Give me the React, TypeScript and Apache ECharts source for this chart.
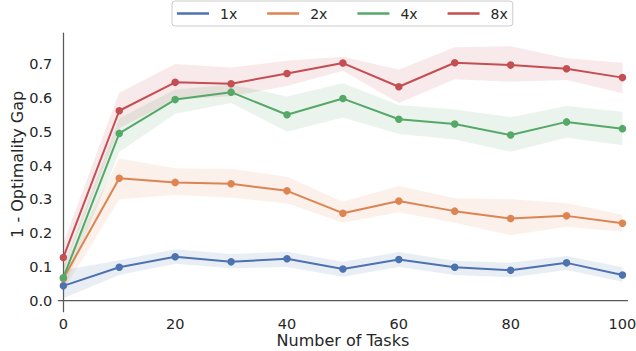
import React, { useEffect, useRef } from "react";
import * as echarts from "echarts";

const tasks = [0, 10, 20, 30, 40, 50, 60, 70, 80, 90, 100];
const seriesNames = ["1x", "2x", "4x", "8x"];
const colors = ["#4C72B0", "#DD8452", "#55A868", "#C44E52"];

const mean1x = [0.044, 0.099, 0.13, 0.115, 0.124, 0.094, 0.122, 0.099, 0.09, 0.112, 0.076];
const lo1x = [0.007, 0.076, 0.109, 0.096, 0.1, 0.071, 0.1, 0.076, 0.069, 0.091, 0.056];
const hi1x = [0.09, 0.12, 0.152, 0.138, 0.145, 0.115, 0.144, 0.118, 0.112, 0.132, 0.099];

const mean2x = [0.066, 0.362, 0.35, 0.346, 0.325, 0.259, 0.295, 0.265, 0.243, 0.251, 0.229];
const lo2x = [0.03, 0.3, 0.313, 0.305, 0.288, 0.231, 0.262, 0.231, 0.194, 0.219, 0.204];
const hi2x = [0.1, 0.421, 0.392, 0.39, 0.367, 0.293, 0.339, 0.303, 0.3, 0.288, 0.254];

const mean4x = [0.068, 0.495, 0.595, 0.617, 0.55, 0.598, 0.537, 0.523, 0.49, 0.529, 0.509];
const lo4x = [0.03, 0.44, 0.553, 0.585, 0.5, 0.542, 0.493, 0.477, 0.441, 0.482, 0.46];
const hi4x = [0.1, 0.54, 0.625, 0.64, 0.604, 0.643, 0.579, 0.566, 0.543, 0.576, 0.559];

const mean8x = [0.128, 0.562, 0.646, 0.642, 0.672, 0.703, 0.633, 0.704, 0.697, 0.686, 0.66];
const lo8x = [0.09, 0.51, 0.595, 0.605, 0.635, 0.68, 0.585, 0.655, 0.648, 0.653, 0.614];
const hi8x = [0.17, 0.615, 0.7, 0.69, 0.71, 0.722, 0.683, 0.75, 0.753, 0.717, 0.704];

const xTicks = [0, 20, 40, 60, 80, 100];
const yTicks = [0, 0.1, 0.2, 0.3, 0.4, 0.5, 0.6, 0.7];

const means = [mean1x, mean2x, mean4x, mean8x];
const lows = [lo1x, lo2x, lo4x, lo8x];
const highs = [hi1x, hi2x, hi4x, hi8x];

const FONT = "DejaVu Sans";
const TEXT = "#262626";
const AXIS = "#595959";

export default function App() {
  const ref = useRef<HTMLDivElement>(null);
  useEffect(() => {
    if (!ref.current) return;
    const chart = echarts.init(ref.current, undefined, { renderer: "svg" });

    const bandSeries = seriesNames.map((name, k) => ({
      type: "custom",
      name: name + " band",
      silent: true,
      z: 1,
      encode: { x: 0, y: [1, 2] },
      data: tasks.map((x, i) => [x, lows[k][i], highs[k][i]]),
      renderItem: (params: any, api: any) => {
        if (params.dataIndex !== 0) return null;
        const upper = tasks.map((x, i) => api.coord([x, highs[k][i]]));
        const lower = tasks.map((x, i) => api.coord([x, lows[k][i]])).reverse();
        return {
          type: "polygon",
          shape: { points: upper.concat(lower) },
          style: { fill: colors[k], opacity: 0.12 },
        };
      },
    }));

    const lineSeries = seriesNames.map((name, k) => ({
      type: "line",
      name,
      z: 3,
      data: tasks.map((x, i) => [x, means[k][i]]),
      symbol: "circle",
      symbolSize: 7.5,
      showSymbol: true,
      lineStyle: { color: colors[k], width: 2 },
      itemStyle: { color: colors[k] },
    }));

    chart.setOption({
      animation: false,
      textStyle: { fontFamily: FONT },
      legend: {
        data: seriesNames,
        left: 172,
        top: 1,
        icon: "rect",
        itemWidth: 32,
        itemHeight: 2.5,
        itemGap: 30,
        padding: [4, 5, 4, 5],
        borderColor: "#cccccc",
        borderWidth: 1,
        borderRadius: 3,
        textStyle: {
          fontFamily: FONT,
          fontSize: 14,
          color: TEXT,
          padding: [0, 0, 0, 6],
          lineHeight: 17,
        },
      },
      grid: {
        left: 58.3,
        right: 8.5,
        top: 33,
        bottom: 39.3,
        containLabel: false,
        outerBoundsMode: "none",
      },
      xAxis: {
        type: "value",
        min: -0.9,
        max: 100.9,
        name: "Number of Tasks",
        nameLocation: "middle",
        nameMoveOverlap: false,
        nameGap: 21,
        nameTextStyle: { fontFamily: FONT, fontSize: 16, color: TEXT, lineHeight: 16 },
        axisLine: { show: true, lineStyle: { color: AXIS, width: 1.25 } },
        axisTick: { show: false },
        splitLine: { show: false },
        axisLabel: {
          customValues: xTicks,
          fontFamily: FONT,
          fontSize: 14.5,
          color: TEXT,
          margin: 5,
          formatter: (v: number) => String(v),
        },
      },
      yAxis: {
        type: "value",
        min: -0.0325,
        max: 0.792,
        name: "1 - Optimality Gap",
        nameLocation: "middle",
        nameMoveOverlap: false,
        nameGap: 33,
        nameTextStyle: {
          fontFamily: FONT,
          fontSize: 16,
          color: TEXT,
          lineHeight: 16,
          padding: [0, 0, 0, 16],
        },
        axisLine: { show: true, lineStyle: { color: AXIS, width: 1.25 } },
        axisTick: { show: false },
        splitLine: { show: false },
        axisLabel: {
          customValues: yTicks,
          fontFamily: FONT,
          fontSize: 14.5,
          color: TEXT,
          margin: 6,
          formatter: (v: number) => v.toFixed(1),
        },
      },
      series: [...bandSeries, ...lineSeries],
    });
    return () => chart.dispose();
  }, []);
  return (
    <div
      ref={ref}
      style={{ position: "absolute", left: 0, top: 0, width: 636, height: 351 }}
    />
  );
}
